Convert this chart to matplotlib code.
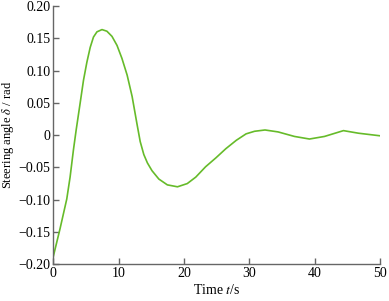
import matplotlib
matplotlib.use("Agg")
import matplotlib.pyplot as plt

plt.rcParams['font.family'] = ['Liberation Serif', 'DejaVu Serif']
plt.rcParams['mathtext.fontset'] = 'stix'

time_s = [0, 1.03, 2.06, 2.57, 3.08, 3.5, 4.1, 4.62, 5.14, 5.65, 6.15, 6.68, 7.45,
          8.2, 8.98, 9.75, 10.5, 11.3, 12.06, 12.83, 13.3, 13.85, 14.4, 15.1,
          16.15, 17.45, 19.0, 20.5, 21.8, 23.3, 24.9, 26.4, 28.0, 29.5, 30.8,
          32.4, 34.4, 36.9, 39.2, 41.5, 44.4, 46.7, 50.0]
steer = [-0.188, -0.145, -0.099, -0.065, -0.023, 0.008, 0.049, 0.085, 0.113, 0.136,
         0.152, 0.160, 0.1635, 0.161, 0.153, 0.139, 0.119, 0.093, 0.060, 0.016,
         -0.010, -0.030, -0.043, -0.055, -0.068, -0.077, -0.080, -0.075, -0.065,
         -0.049, -0.035, -0.021, -0.008, 0.002, 0.006, 0.008, 0.005, -0.002,
         -0.006, -0.002, 0.007, 0.003, -0.001]

x_ticks = [0, 10, 20, 30, 40, 50]
y_ticks = [-0.20, -0.15, -0.10, -0.05, 0, 0.05, 0.10, 0.15, 0.20]
y_tick_labels = ['\u22120.20', '\u22120.15', '\u22120.10', '\u22120.05', '0',
                 '0.05', '0.10', '0.15', '0.20']

fig = plt.figure(figsize=(3.89, 3.01), dpi=100)
ax = fig.add_axes([0.137, 0.122, 0.840, 0.858])
ax.plot(time_s, steer, color='#66bb2a', lw=1.2, solid_joinstyle='round')
ax.set_xlim(0, 50)
ax.set_ylim(-0.20, 0.20)
ax.set_xticks(x_ticks)
ax.set_xticklabels([str(v) for v in x_ticks])
ax.set_yticks(y_ticks)
ax.set_yticklabels(y_tick_labels)
for s in ['top', 'right']:
    ax.spines[s].set_visible(False)
for s in ['left', 'bottom']:
    ax.spines[s].set_color('#666666')
    ax.spines[s].set_linewidth(1.0)
ax.tick_params(direction='in', length=4, width=1.0, color='#666666',
               labelsize=10, pad=2)
ax.set_xlabel('Time $t$/s', fontsize=10, labelpad=2)
ax.set_ylabel('Steering angle $\\delta$ / rad', fontsize=9)
ax.yaxis.set_label_coords(-0.114, 0.5)
fig.savefig('out.png', dpi=100)
